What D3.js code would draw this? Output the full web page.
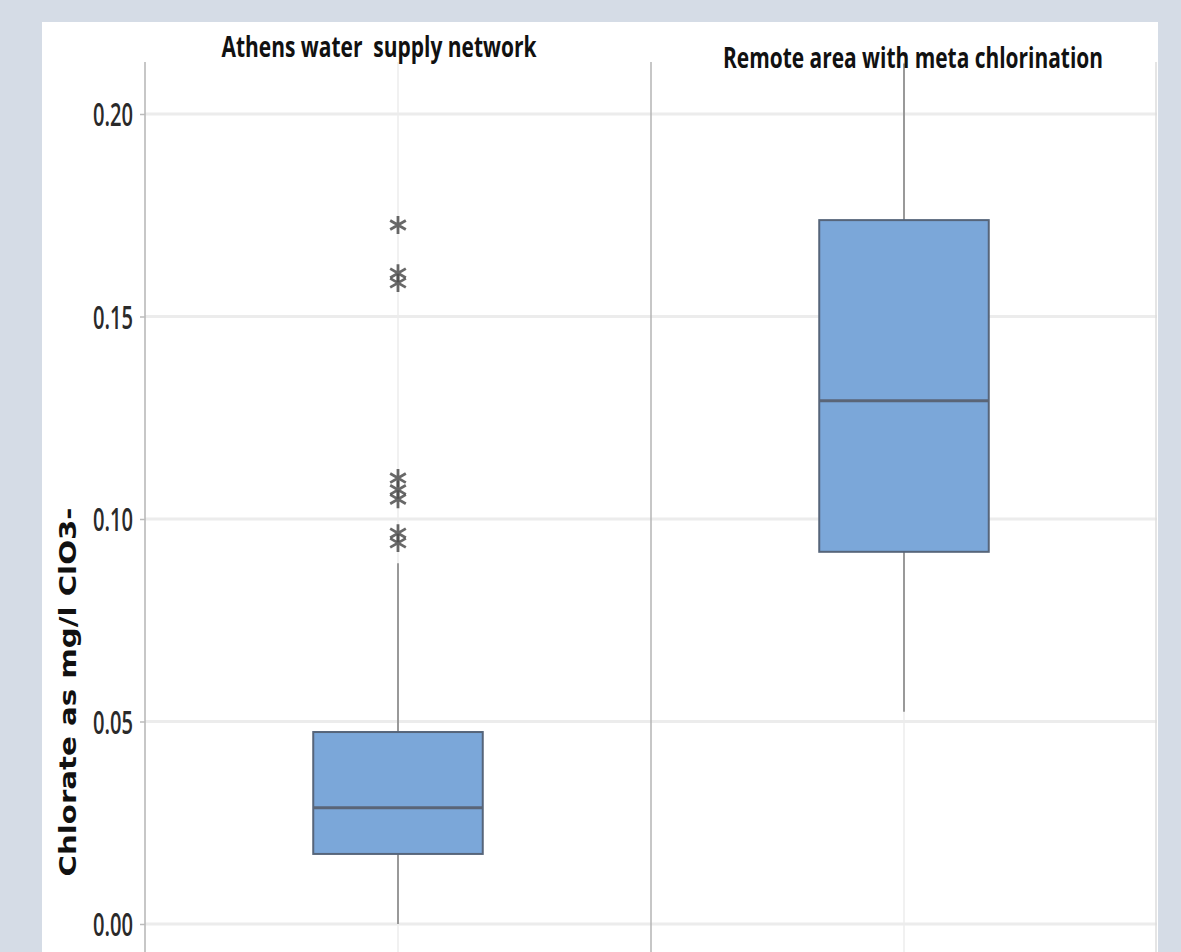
<!DOCTYPE html>
<html>
<head>
<meta charset="utf-8">
<script src="https://cdn.jsdelivr.net/npm/d3@7"></script>
<style>
  body { margin: 0; background: #d5dce6; }
  svg { display: block; }
</style>
</head>
<body>
<div id="chart"></div>
<script>
// chart values
const categories = ["Athens water  supply network", "Remote area with meta chlorination"];
const whiskerLow = [0.0, 0.0524];
const q1 = [0.0173, 0.0919];
const median = [0.0287, 0.1292];
const q3 = [0.0474, 0.1738];
const whiskerHigh = [0.0891, 0.2125];
const outliers = [[0.1726, 0.1607, 0.1583, 0.1101, 0.1072, 0.1049, 0.0965, 0.0941], []];
const yTicks = [0, 0.05, 0.10, 0.15, 0.20];
const yLabel = "Chlorate as mg/l ClO3-";

const width = 1181, height = 952;
const margin = {top: 62, left: 145, right: 24, bottom: 28};

const svg = d3.select("#chart").append("svg")
    .attr("width", width).attr("height", height);

// background + white panel
svg.append("rect").attr("width", width).attr("height", height).attr("fill", "#d5dce6");
svg.append("rect").attr("x", 42).attr("y", 22).attr("width", 1116).attr("height", height - 22).attr("fill", "#fff");

var x = d3.scaleBand()
    .domain(categories)
    .range([margin.left, width - margin.right])
    .paddingInner(0).paddingOuter(0);

var y = d3.scaleLinear()
    .domain([0, 0.20])
    .range([height - margin.bottom, 114]);

const boxW = x.bandwidth() * 0.335;
const cx = d => x(d) + x.bandwidth() / 2;

// horizontal grid
svg.append("g").selectAll("line").data(yTicks).join("line")
    .attr("x1", margin.left).attr("x2", width - margin.right)
    .attr("y1", d => y(d)).attr("y2", d => y(d))
    .attr("stroke", "#ececec").attr("stroke-width", 3);

// vertical category grid
svg.append("g").selectAll("line").data(categories).join("line")
    .attr("x1", cx).attr("x2", cx)
    .attr("y1", margin.top).attr("y2", height)
    .attr("stroke", "#ececec").attr("stroke-width", 1.5);

// panel separators
svg.append("g").selectAll("line").data(categories.slice(1).map(c => x(c)).concat([width - margin.right - 1])).join("line")
    .attr("x1", d => d).attr("x2", d => d)
    .attr("y1", margin.top).attr("y2", height)
    .attr("stroke", (d, i) => i === 0 ? "#b5b5b5" : "#dcdcdc").attr("stroke-width", 1.5);

// y axis
var yAxis = svg.append("g")
    .attr("transform", `translate(${margin.left},0)`)
    .call(d3.axisLeft(y).tickValues(yTicks).tickFormat(d3.format(".2f")).tickSize(5).tickSizeOuter(0));
yAxis.select(".domain").attr("stroke", "#b5b5b5").attr("stroke-width", 1.5)
    .attr("d", `M0,${margin.top}V${height}`);
yAxis.selectAll(".tick line").attr("stroke", "#bbb").attr("stroke-width", 1.5);
yAxis.selectAll(".tick text")
    .attr("x", -12).attr("dy", "0.36em")
    .attr("fill", "#2a2a2a")
    .style("font-family", "'Open Sans', sans-serif")
    .style("font-weight", "600")
    .style("font-size", "33px")
    .attr("textLength", 40).attr("lengthAdjust", "spacingAndGlyphs");

// whiskers
const boxes = categories.map((c, i) => ({c, lo: whiskerLow[i], q1: q1[i], med: median[i], q3: q3[i], hi: whiskerHigh[i], out: outliers[i]}));

svg.append("g").selectAll("line").data(boxes).join("line")
    .attr("x1", d => cx(d.c)).attr("x2", d => cx(d.c))
    .attr("y1", d => y(d.q3)).attr("y2", d => y(d.hi))
    .attr("stroke", "#999").attr("stroke-width", 2);
svg.append("g").selectAll("line").data(boxes).join("line")
    .attr("x1", d => cx(d.c)).attr("x2", d => cx(d.c))
    .attr("y1", d => y(d.q1)).attr("y2", d => y(d.lo))
    .attr("stroke", "#999").attr("stroke-width", 2);

// boxes
svg.append("g").selectAll("rect").data(boxes).join("rect")
    .attr("x", d => cx(d.c) - boxW / 2).attr("width", boxW)
    .attr("y", d => y(d.q3)).attr("height", d => y(d.q1) - y(d.q3))
    .attr("fill", "#7ba7d9").attr("stroke", "#56657a").attr("stroke-width", 2);

// medians
svg.append("g").selectAll("line").data(boxes).join("line")
    .attr("x1", d => cx(d.c) - boxW / 2).attr("x2", d => cx(d.c) + boxW / 2)
    .attr("y1", d => y(d.med)).attr("y2", d => y(d.med))
    .attr("stroke", "#5a6577").attr("stroke-width", 3);

// outliers
const star = d3.symbol().type(d3.symbolAsterisk).size(230);
svg.append("g").selectAll("path")
    .data(boxes.flatMap(b => b.out.map(v => ({c: b.c, v}))))
    .join("path")
    .attr("transform", d => `translate(${cx(d.c)},${y(d.v)})`)
    .attr("d", star)
    .attr("fill", "none").attr("stroke", "#4d4d4d").attr("stroke-width", 2.8).attr("opacity", 0.85);

// panel titles
const titleShift = [-19, 9], titleY = [57, 68], titleLen = [315, 380];
svg.append("g").selectAll("text").data(categories).join("text")
    .attr("x", (d, i) => cx(d) + titleShift[i])
    .attr("y", (d, i) => titleY[i])
    .attr("text-anchor", "middle")
    .style("white-space", "pre")
    .style("font-family", "'Open Sans', sans-serif")
    .style("font-weight", "bold")
    .style("font-size", "29px")
    .attr("fill", "#111")
    .attr("textLength", (d, i) => titleLen[i]).attr("lengthAdjust", "spacingAndGlyphs")
    .text(d => d);

// y label
svg.append("text")
    .attr("transform", "translate(76,692) rotate(-90)")
    .attr("text-anchor", "middle")
    .style("font-family", "'DejaVu Sans', sans-serif")
    .style("font-weight", "bold")
    .style("font-size", "23px")
    .attr("fill", "#111")
    .attr("textLength", 369).attr("lengthAdjust", "spacingAndGlyphs")
    .text(yLabel);
</script>
</body>
</html>
